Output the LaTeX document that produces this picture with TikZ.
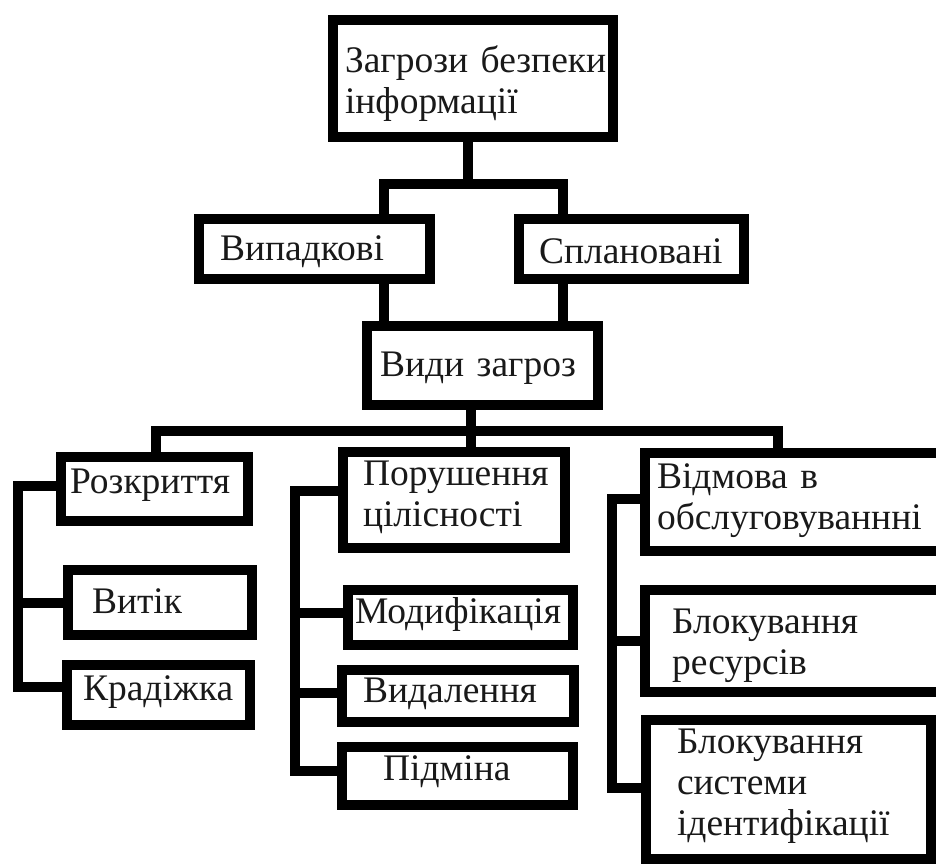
\documentclass[tikz,border=0pt]{standalone}
\usepackage{fontspec}
\setmainfont{Liberation Serif}
\begin{document}
\begin{tikzpicture}[x=1pt,y=-1pt,
  box/.style={draw=black,line width=10pt,rectangle,inner xsep=0pt,inner ysep=0pt,
    align=left,font=\fontsize{37.5}{41}\selectfont,text=black!90,text height=30pt},
  conn/.style={draw=black,line width=10pt,line join=miter}]
\useasboundingbox (0,0) rectangle (936,864);
\clip (0,0) rectangle (936,864);
\fill[white] (0,0) rectangle (936,864);
% nodes
\node[box,minimum width=280pt,minimum height=117pt,text width=256pt,text depth=41pt] (top) at (473,78.5) {Загрози~безпеки\\інформації};
\node[box,minimum width=231pt,minimum height=60pt,text width=189pt,text depth=8pt] (vip) at (314.5,249) {Випадкові};
\node[box,minimum width=225pt,minimum height=60pt,text width=185pt,text depth=2pt] (spl) at (631.5,249) {Сплановані};
\node[box,minimum width=231pt,minimum height=79pt,text width=205pt,text depth=9pt] (vid) at (482.5,365.5) {Види~загроз};
\node[box,minimum width=187pt,minimum height=64pt,text width=169pt,text depth=22pt] (roz) at (154.5,489) {Розкриття};
\node[box,minimum width=184pt,minimum height=65pt,text width=136pt,text depth=9pt] (vyt) at (160,602.5) {Витік};
\node[box,minimum width=183pt,minimum height=60pt,text width=151pt,text depth=20pt] (kra) at (158.5,695) {Крадіжка};
\node[box,minimum width=222pt,minimum height=96pt,text width=182pt,text depth=60pt] (por) at (454,500) {Порушення\\цілісності};
\node[box,minimum width=225pt,minimum height=55pt,text width=211pt,text depth=19pt] (mod) at (460.5,617.5) {Модифікація};
\node[box,minimum width=232pt,minimum height=52pt,text width=190pt,text depth=18pt] (vdl) at (458,696) {Видалення};
\node[box,minimum width=231pt,minimum height=58pt,text width=149pt,text depth=22pt] (pid) at (457.5,776) {Підміна};
\node[box,minimum width=300pt,minimum height=98pt,text width=276pt,text depth=58pt] (vidm) at (795,502) {Відмова~в\\обслуговуваннні};
\node[box,minimum width=300pt,minimum height=102pt,text width=246pt,text depth=46pt] (res) at (795,641) {Блокування\\ресурсів};
\node[box,minimum width=285pt,minimum height=139pt,text width=223pt,text depth=103pt] (sys) at (788.5,789.5) {Блокування\\системи\\ідентифікації};
% junction coordinates
\coordinate (jT) at (468,183.5);
\coordinate (jL) at (384,183.5);
\coordinate (jR) at (563,183.5);
\coordinate (b1) at (156,431);
\coordinate (b2) at (471,431);
\coordinate (b3) at (777.5,431);
\coordinate (l1) at (18,486);
\coordinate (l3) at (18,687);
\coordinate (m1) at (295,491);
\coordinate (m4) at (295,771);
\coordinate (r1) at (612,499);
\coordinate (r3) at (612,788);
% connectors
\draw[conn] (top.south -| jT) -- (jT);
\draw[conn] (vip.north -| jL) -- (jL) -- (jR) -- (spl.north -| jR);
\draw[conn] (vip.south -| jL) -- (vid.north -| jL);
\draw[conn] (spl.south -| jR) -- (vid.north -| jR);
\draw[conn] (vid.south -| b2) -- (por.north -| b2);
\draw[conn] (roz.north -| b1) -- (b1) -- (b3) -- (vidm.north -| b3);
\draw[conn] (roz.west |- l1) -- (l1) -- (l3) -- (kra.west |- l3);
\draw[conn] (l1 |- vyt.west) -- (vyt.west);
\draw[conn] (por.west |- m1) -- (m1) -- (m4) -- (pid.west |- m4);
\draw[conn] (m1 |- 0,612.5) -- (mod.west |- 0,612.5);
\draw[conn] (m1 |- 0,693) -- (vdl.west |- 0,693);
\draw[conn] (vidm.west |- r1) -- (r1) -- (r3) -- (sys.west |- r3);
\draw[conn] (r1 |- res.west) -- (res.west);
\end{tikzpicture}
\end{document}
